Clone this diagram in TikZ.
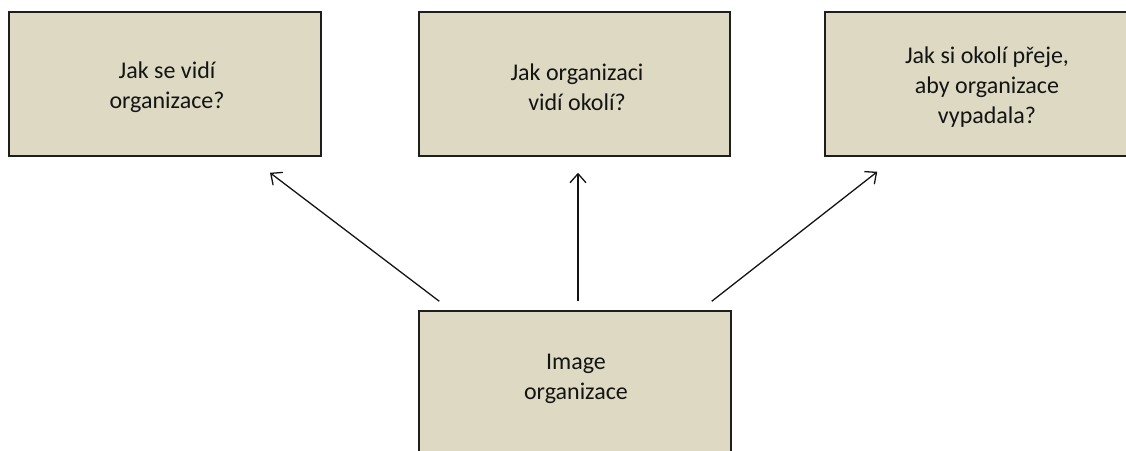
\documentclass[tikz,border=0pt]{standalone}
\usepackage{fontspec}
\setmainfont{Carlito}
\usetikzlibrary{arrows.meta}
\definecolor{boxfill}{HTML}{DDD9C3}
\definecolor{boxline}{HTML}{1E1E1E}
\definecolor{ink}{HTML}{141414}
\tikzset{
  panel/.style={draw=boxline, line width=1.5pt, fill=boxfill, inner sep=0pt},
  caption/.style={align=center, text=ink, font=\fontsize{24}{30}\selectfont, inner sep=0pt},
  link/.style={draw=ink, line width=1.3pt, -{Straight Barb[length=9pt, width=16pt, line width=1.3pt]}}
}
\begin{document}
\begin{tikzpicture}[x=1pt, y=-1pt]
  \useasboundingbox (0,0) rectangle (1126,450);
  \clip (0,0) rectangle (1126,450);
  % question panels
  \node[panel, minimum width=312pt, minimum height=144pt] (self)  at (165,84) {};
  \node[panel, minimum width=311pt, minimum height=144pt] (seen)  at (574.5,84) {};
  \node[panel, minimum width=324pt, minimum height=144pt] (wish)  at (987,84) {};
  % central panel
  \node[panel, minimum width=312pt, minimum height=170pt] (image) at (575,396) {};
  % captions
  \node[caption] (tself)  at (167,87)  {Jak se vidí\\organizace?};
  \node[caption] (tseen)  at (577,87)  {Jak organizaci\\vidí okolí?};
  \node[caption] (twish)  at (987,87)  {Jak si okolí přeje,\\aby organizace\\vypadala?};
  \node[caption] (timage) at (576,379) {Image\\organizace};
  % connector ends, placed relative to the panels
  \coordinate (s1) at ([shift={(21,-9)}]image.north west);
  \coordinate (s2) at ([shift={(3,-9)}]image.north);
  \coordinate (s3) at ([shift={(-20,-9)}]image.north east);
  \coordinate (e1) at ([shift={(105,16)}]self.south);
  \coordinate (e2) at ([shift={(3.5,16)}]seen.south);
  \coordinate (e3) at ([shift={(53,15)}]wish.south west);
  \draw[link] (s1) -- (e1);
  \draw[link] (s2) -- (e2);
  \draw[link] (s3) -- (e3);
\end{tikzpicture}
\end{document}
